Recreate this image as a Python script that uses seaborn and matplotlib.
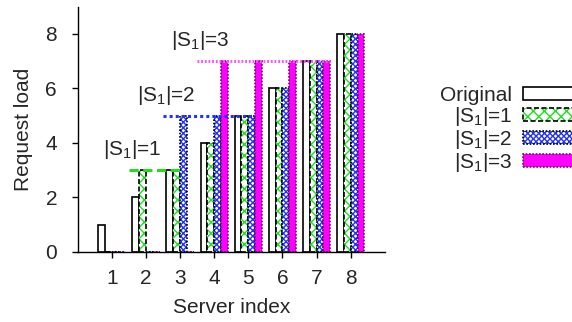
import numpy as np
import pandas as pd
import matplotlib
matplotlib.use("Agg")
import matplotlib.pyplot as plt
import matplotlib.colors as mcolors
import seaborn as sns

# Request load per server for the original assignment and after
# rebalancing with |S1| = 1, 2, 3
servers = ["1", "2", "3", "4", "5", "6", "7", "8"]
original = [1, 2, 3, 4, 5, 6, 7, 8]
s1_one = [0, 3, 3, 4, 5, 6, 7, 8]
s1_two = [0, 0, 5, 5, 5, 6, 7, 8]
s1_three = [0, 0, 0, 7, 7, 7, 7, 8]

series_names = ["Original", "|S$_1$|=1", "|S$_1$|=2", "|S$_1$|=3"]
series_values = [original, s1_one, s1_two, s1_three]
y_ticks = [0, 2, 4, 6, 8]

df = pd.DataFrame({
    "server": np.tile(servers, len(series_names)),
    "scheme": np.repeat(series_names, len(servers)),
    "load": np.concatenate(series_values),
})

sns.set_style("ticks")
plt.rcParams["font.family"] = ["Liberation Sans", "DejaVu Sans"]
plt.rcParams["mathtext.fontset"] = "custom"
plt.rcParams["mathtext.rm"] = "Liberation Sans"
plt.rcParams["mathtext.it"] = "Liberation Sans"
plt.rcParams["mathtext.default"] = "regular"
plt.rcParams["hatch.linewidth"] = 1.0

FS = 15

fig = plt.figure(figsize=(5.72, 3.22), dpi=100)
ax = fig.add_axes([0.1358, 0.2174, 0.537, 0.762])

face = ["white", "white", "white", "#ff00ff"]
hatch_col = [None, "#22dd22", "#2233ff", None]
hatches = [None, "xxx", "xxxxxx", None]
edge_ls = ["-", (0, (3, 1.5)), (0, (1, 1)), (0, (1, 1))]
edge_col = ["black", "black", "black", "#661166"]

sns.barplot(data=df, x="server", y="load", hue="scheme", order=servers,
            hue_order=series_names, width=0.8, palette=["white"] * 4,
            saturation=1, legend=False, ax=ax)

for k, cont in enumerate(ax.containers):
    for p in cont.patches:
        p.set_facecolor(face[k])
        p.set_edgecolor(edge_col[k])
        p.set_linewidth(1.2)
        p.set_linestyle(edge_ls[k])
        if hatches[k]:
            p.set_hatch(hatches[k])
            if hasattr(p, "set_hatchcolor"):
                p.set_hatchcolor(hatch_col[k])
            else:
                p._hatch_color = mcolors.to_rgba(hatch_col[k])

# Levelling lines and labels for each |S1| setting
line_col = ["#22dd22", "#2233ff", "#ff55ff"]
line_ls = [(0, (3, 1.5)), (0, (1, 1)), (0, (0.6, 0.6))]
for k in range(1, 4):
    vals = series_values[k]
    level = vals[k]
    last = max(i for i, v in enumerate(vals) if v == level)
    p_last = ax.containers[k].patches[last]
    x_end = p_last.get_x() + p_last.get_width()
    x_start = k - 0.5
    ax.plot([x_start, x_end], [level, level], color=line_col[k - 1],
            ls=line_ls[k - 1], lw=2.2, zorder=3)
    ax.text(k - 0.4, level + 0.55, series_names[k], ha="center",
            va="baseline", fontsize=FS)

ax.set_xlim(-1, 8)
ax.set_ylim(0, 9)
ax.set_yticks(y_ticks)
ax.set_yticklabels([str(t) for t in y_ticks])
ax.tick_params(axis="both", labelsize=FS, direction="out", length=4.3,
               width=1, color="black")
ax.tick_params(axis="x", pad=8)
ax.tick_params(axis="y", pad=10.5)
for s in ["top", "right"]:
    ax.spines[s].set_visible(False)
for s in ["left", "bottom"]:
    ax.spines[s].set_linewidth(1)
    ax.spines[s].set_color("black")

ax.set_xlabel("Server index", fontsize=FS, labelpad=7)
ax.set_ylabel("Request load", fontsize=FS, labelpad=9)

leg = ax.legend(handles=list(ax.containers), labels=series_names,
                loc="upper right", bbox_to_anchor=(577 / 572, 1 - 86 / 322),
                bbox_transform=fig.transFigure, frameon=False,
                markerfirst=False, fontsize=FS, handlelength=2.6,
                handleheight=0.55, handletextpad=0.5, labelspacing=0.0,
                borderpad=0, borderaxespad=0)

fig.savefig("out.png", dpi=100)
